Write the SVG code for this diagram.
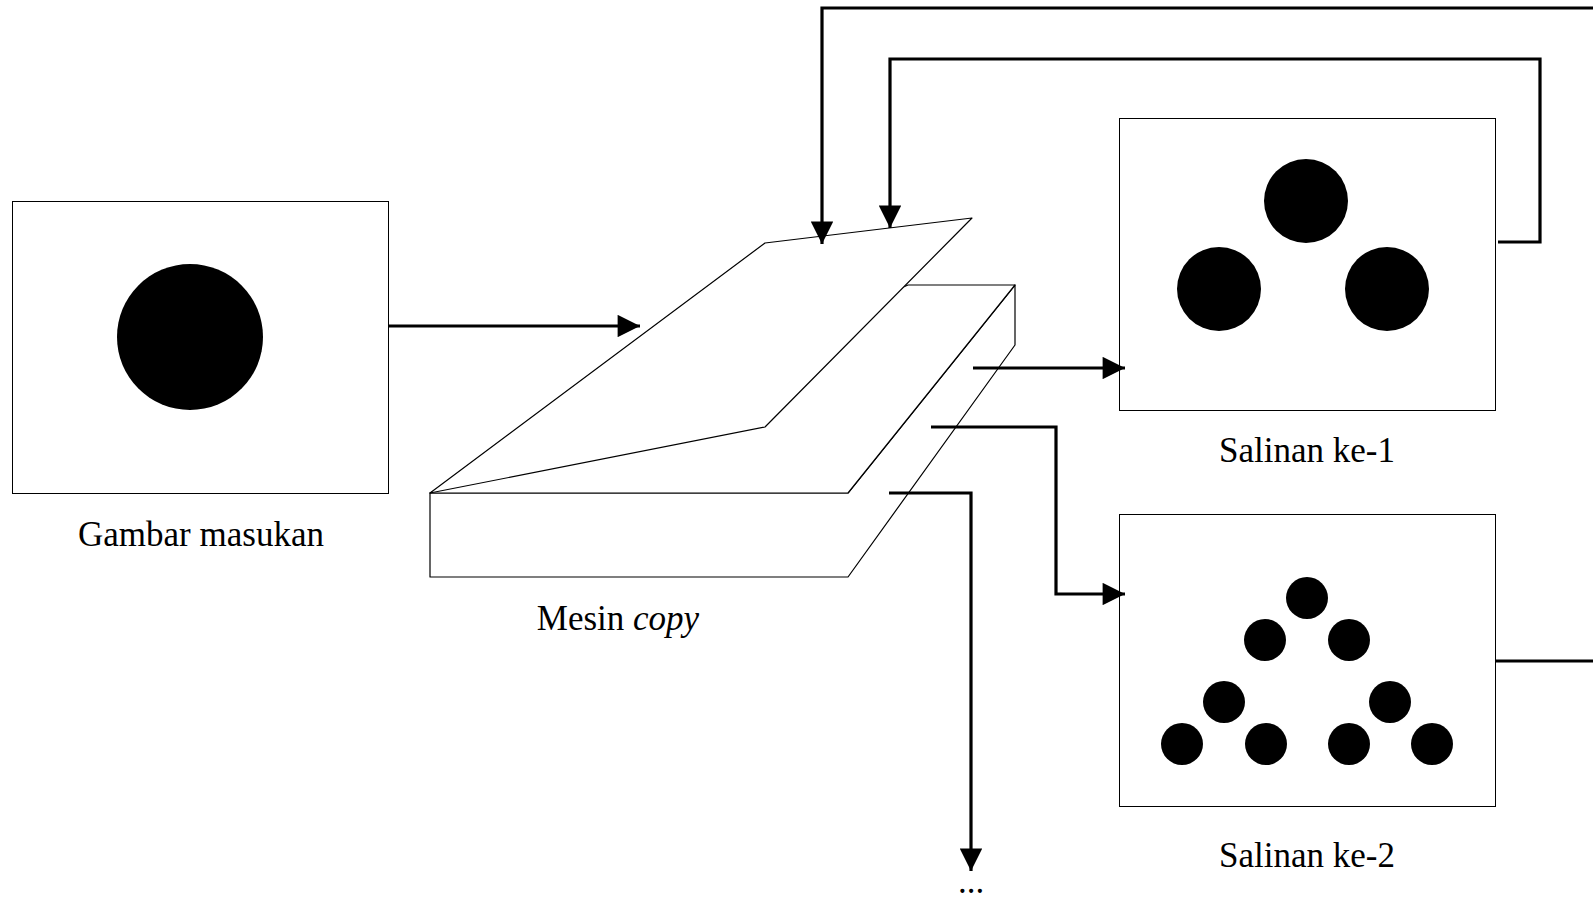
<svg xmlns="http://www.w3.org/2000/svg" width="1593" height="908" viewBox="0 0 1593 908">
<defs>
<marker id="ah" viewBox="0 0 10 10" refX="10" refY="5" markerWidth="8" markerHeight="7" markerUnits="strokeWidth" orient="auto">
<path d="M0,0 L10,5 L0,10 Z" fill="#000"/>
</marker>
</defs>
<style>
.box{fill:#fff;stroke:#000;stroke-width:1}
.shape{fill:#fff;stroke:#000;stroke-width:1.2;stroke-linejoin:round}
.dot{fill:#000}
.lbl{font-family:"Liberation Serif","Times New Roman",serif;font-size:35px;fill:#000;text-anchor:middle}
.con{fill:none;stroke:#000;stroke-width:3.2}
.arr{marker-end:url(#ah)}
</style>
<rect width="1593" height="908" fill="#fff"/>
<g id="input">
<rect class="box" x="12.5" y="201.5" width="376" height="292"/>
<circle class="dot" cx="190" cy="337" r="73"/>
<text class="lbl" x="201" y="546">Gambar masukan</text>
</g>
<g id="machine">
<polygon class="shape" points="430,493 848,493 1015,285 1015,345 848,577 430,577"/>
<polygon class="shape" points="430,493 908,285 1015,285 848,493"/>
<polygon class="shape" points="430,493 765,243 972,218 765,427"/>
<text class="lbl" x="618" y="630">Mesin <tspan font-style="italic">copy</tspan></text>
</g>
<g id="copy1">
<rect class="box" x="1119.5" y="118.5" width="376" height="292"/>
<circle class="dot" cx="1306" cy="201" r="42"/>
<circle class="dot" cx="1219" cy="289" r="42"/>
<circle class="dot" cx="1387" cy="289" r="42"/>
<text class="lbl" x="1307" y="462">Salinan ke-1</text>
</g>
<g id="copy2">
<rect class="box" x="1119.5" y="514.5" width="376" height="292"/>
<circle class="dot" cx="1307" cy="598" r="21"/>
<circle class="dot" cx="1265" cy="640" r="21"/>
<circle class="dot" cx="1349" cy="640" r="21"/>
<circle class="dot" cx="1224" cy="702" r="21"/>
<circle class="dot" cx="1390" cy="702" r="21"/>
<circle class="dot" cx="1182" cy="744" r="21"/>
<circle class="dot" cx="1266" cy="744" r="21"/>
<circle class="dot" cx="1349" cy="744" r="21"/>
<circle class="dot" cx="1432" cy="744" r="21"/>
<text class="lbl" x="1307" y="867">Salinan ke-2</text>
</g>
<g id="connectors">
<polyline class="con arr" points="388,326 640,326"/>
<polyline class="con arr" points="973,368 1125,368"/>
<polyline class="con arr" points="931,427 1056,427 1056,594 1125,594"/>
<polyline class="con arr" points="889,493 971,493 971,871"/>
<polyline class="con arr" points="1498,242 1540,242 1540,59 890,59 890,228"/>
<polyline class="con" points="1496,661 1600,661"/>
<polyline class="con arr" points="1600,8 822,8 822,244"/>
<text class="lbl" x="971" y="893">...</text>
</g>
</svg>
